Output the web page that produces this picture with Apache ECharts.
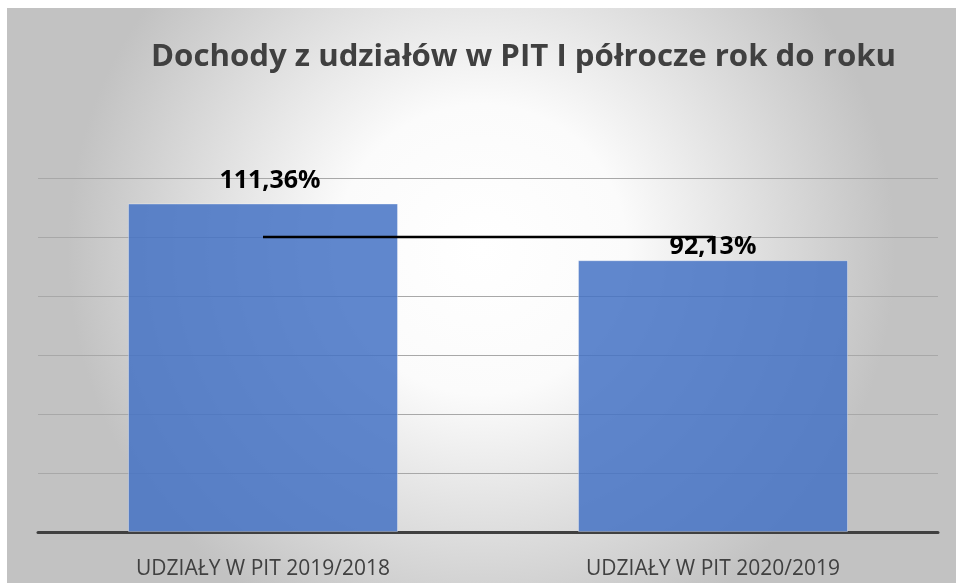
<!DOCTYPE html>
<html><head><meta charset="utf-8">
<script src="https://cdn.jsdelivr.net/npm/echarts@6/dist/echarts.min.js"></script>
<style>html,body{margin:0;padding:0;background:#fff;}#c{width:956px;height:583px;}</style>
</head><body><div id="c"></div>
<script>
const titleText = 'Dochody z udziałów w PIT I półrocze rok do roku';
const categories = ['UDZIAŁY W PIT 2019/2018', 'UDZIAŁY W PIT 2020/2019'];
const barValues = [111.36, 92.13];
const refValues = [100, 100];
const yTicks = [0, 20, 40, 60, 80, 100, 120];

const chart = echarts.init(document.getElementById('c'), null, {renderer: 'canvas'});
const font = '"Open Sans", "Noto Sans", sans-serif';
const labelGaps = [10, 1];
const labelShift = [7, 0];
chart.setOption({
  animation: false,
  graphic: [{
    type: 'rect', z: -10, silent: true,
    shape: {x: 7, y: 8, width: 949, height: 575},
    style: {fill: new echarts.graphic.RadialGradient(0.5, 0.42, 0.72, [
      {offset: 0, color: '#ffffff'}, {offset: 0.35, color: '#fbfbfb'}, {offset: 1, color: '#c2c2c2'}])}
  }],
  title: {
    text: titleText, left: 146, top: 37,
    textStyle: {fontFamily: font, fontSize: 31.2, fontWeight: 'bold', color: '#404040'}
  },
  grid: {left: 38, right: 18, top: 178, bottom: 51, containLabel: false},
  xAxis: {
    type: 'category', data: categories,
    axisLine: {lineStyle: {color: '#404040', width: 3}},
    axisTick: {show: false},
    axisLabel: {fontFamily: font, fontSize: 21, color: '#404040', margin: 27}
  },
  yAxis: {
    type: 'value', min: yTicks[0], max: yTicks[yTicks.length - 1], interval: yTicks[1] - yTicks[0],
    axisLabel: {show: false}, axisLine: {show: false}, axisTick: {show: false},
    splitLine: {lineStyle: {color: '#a8a8a8', width: 1}}
  },
  series: [{
    type: 'bar', barWidth: '60%', z: 2,
    data: barValues.map((v, i) => ({value: v, label: {distance: labelGaps[i], offset: [labelShift[i], 0]}})),
    itemStyle: {color: 'rgba(68,114,196,0.85)', borderColor: 'rgba(255,255,255,0.35)', borderWidth: 1},
    label: {
      show: true, position: 'top',
      formatter: p => p.value.toFixed(2).replace('.', ',') + '%',
      fontFamily: font, fontSize: 25, fontWeight: 'bold', color: '#000'
    }
  }, {
    type: 'line', data: refValues, symbol: 'none', z: 3,
    lineStyle: {color: '#000', width: 2.5}
  }]
});
</script></body></html>
